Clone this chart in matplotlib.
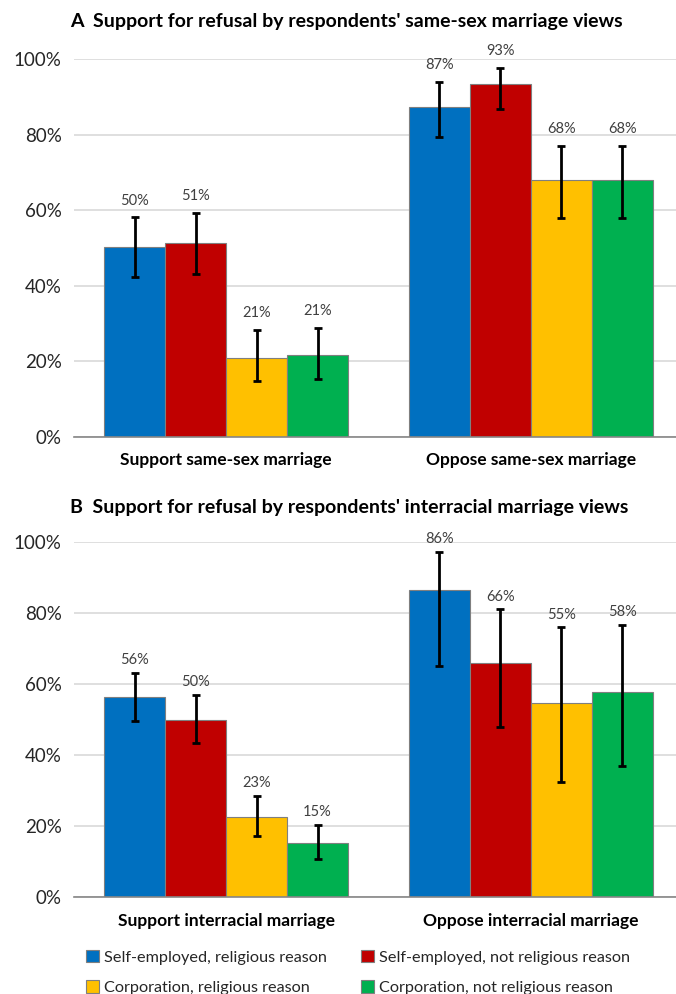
"""
Support for refusal by respondents' marriage views (two panels)
"""

import matplotlib
matplotlib.use("Agg")
import matplotlib.pyplot as plt
from matplotlib.patches import Patch
import numpy as np

plt.rcParams['font.family'] = ['Lato', 'DejaVu Sans']

series = ["Self-employed, religious reason", "Self-employed, not religious reason",
          "Corporation, religious reason", "Corporation, not religious reason"]
colors = ["#0070C0", "#C00000", "#FFC000", "#00B050"]

# panel A: same-sex marriage views
cats_a = ["Support same-sex marriage", "Oppose same-sex marriage"]
vals_a = [[50.3, 87.4], [51.2, 93.4], [20.9, 67.9], [21.6, 67.9]]
lo_a = [[42.4, 79.4], [43.0, 86.9], [14.7, 57.9], [15.4, 57.9]]
hi_a = [[58.1, 93.9], [59.3, 97.7], [28.4, 77.1], [28.8, 77.1]]
labels_a = [["50%", "87%"], ["51%", "93%"], ["21%", "68%"], ["21%", "68%"]]

# panel B: interracial marriage views
cats_b = ["Support interracial marriage", "Oppose interracial marriage"]
vals_b = [[56.3, 86.5], [50.0, 65.8], [22.5, 54.6], [15.2, 57.8]]
lo_b = [[49.7, 65.1], [43.3, 47.8], [17.3, 32.4], [10.7, 36.9]]
hi_b = [[63.1, 97.2], [57.0, 81.0], [28.6, 75.9], [20.4, 76.7]]
labels_b = [["56%", "86%"], ["50%", "66%"], ["23%", "55%"], ["15%", "58%"]]


def draw_panel(ax, cats, vals, lo, hi, labels, label_offset):
    x = np.arange(len(cats))
    width = 0.2
    for i in range(len(series)):
        xi = x + (i - 1.5) * width
        v = np.array(vals[i])
        yerr = np.array([v - np.array(lo[i]), np.array(hi[i]) - v])
        ax.bar(xi, v, width, color=colors[i], edgecolor="#7F7F7F", linewidth=0.8, zorder=2)
        ax.errorbar(xi, v, yerr=yerr, fmt="none", ecolor="black", elinewidth=2,
                    capsize=3, capthick=2, zorder=3, clip_on=False)
        for j in range(len(cats)):
            ax.annotate(labels[i][j], (xi[j], hi[i][j]), xytext=(0, label_offset),
                        textcoords="offset points", ha="center", va="bottom",
                        fontsize=10.5, color="#404040", annotation_clip=False)
    ax.set_xlim(-0.5, 1.477)
    ax.set_ylim(0, 100)
    ax.set_yticks([0, 20, 40, 60, 80, 100])
    ax.set_yticklabels(["0%", "20%", "40%", "60%", "80%", "100%"], fontsize=13.5, color="#262626")
    ax.set_xticks(x)
    ax.set_xticklabels(cats, fontsize=12.5, fontweight="bold", color="black")
    ax.tick_params(axis="both", length=0)
    ax.tick_params(axis="y", pad=9)
    ax.tick_params(axis="x", pad=11)
    ax.grid(axis="y", color="#D9D9D9", linewidth=1.2, zorder=0)
    ax.set_axisbelow(True)
    for s in ["top", "right", "left"]:
        ax.spines[s].set_visible(False)
    ax.spines["bottom"].set_color("#868686")
    ax.spines["bottom"].set_linewidth(1.2)
    ax.spines["bottom"].set_zorder(4)


fig = plt.figure(figsize=(6.76, 9.94), dpi=100)
ax_a = fig.add_axes([0.1095, 0.5604, 0.8905, 0.3802])
ax_b = fig.add_axes([0.1095, 0.0971, 0.8905, 0.3579])

draw_panel(ax_a, cats_a, vals_a, lo_a, hi_a, labels_a, 7)
draw_panel(ax_b, cats_b, vals_b, lo_b, hi_b, labels_b, 4)

fig.text(70 / 676, 1 - 22 / 994, "A  Support for refusal by respondents' same-sex marriage views",
         fontsize=14, fontweight="bold", va="center", ha="left")
fig.text(70 / 676, 1 - 507 / 994, "B  Support for refusal by respondents' interracial marriage views",
         fontsize=14, fontweight="bold", va="center", ha="left")

# legend fills column-wise, so order the entries to read row by row
order = [0, 2, 1, 3]
handles = [Patch(facecolor=colors[k], edgecolor="#7F7F7F", linewidth=0.8) for k in order]
fig.legend(handles, [series[k] for k in order], ncol=2, loc="upper left",
           bbox_to_anchor=(86 / 676, 1 - 950 / 994),
           frameon=False, fontsize=11.7, handlelength=0.8, handleheight=0.8, handletextpad=0.3,
           columnspacing=2.1, labelspacing=0.95, borderaxespad=0, borderpad=0,
           labelcolor="#262626")

fig.savefig("out.png", dpi=100)
